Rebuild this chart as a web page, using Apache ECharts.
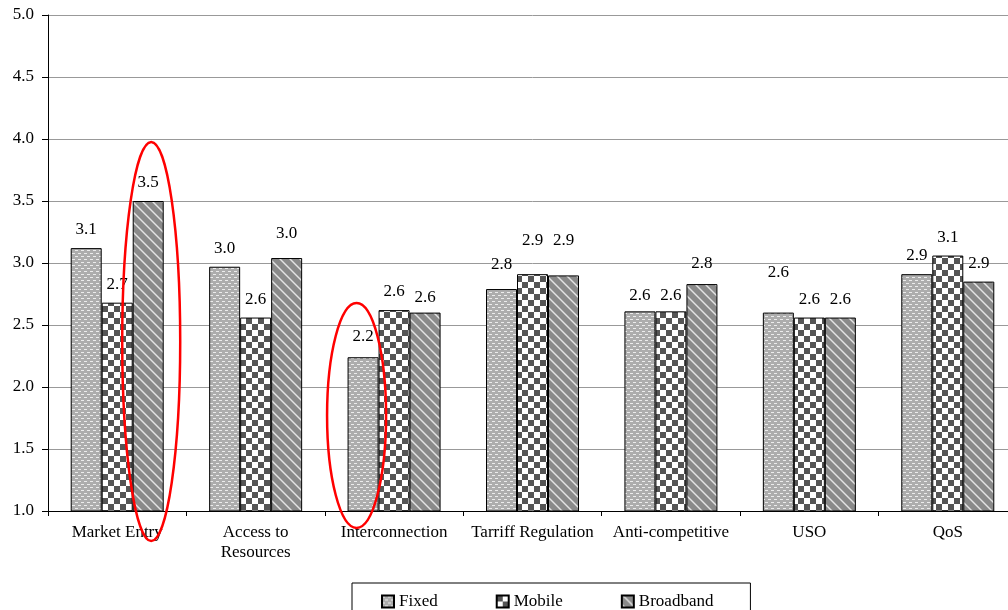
<!DOCTYPE html>
<html>
<head>
<meta charset="utf-8">
<script src="https://cdn.jsdelivr.net/npm/echarts@6/dist/echarts.min.js"></script>
<style>
  html, body { margin: 0; padding: 0; background: #fff; overflow: hidden; width: 1008px; height: 610px; }
  #chart { width: 1017px; height: 610px; }
</style>
</head>
<body>
<div id="chart"></div>
<script>
// ---- data ----
const categories = ['Market Entry', 'Access to\nResources', 'Interconnection', 'Tarriff Regulation', 'Anti-competitive', 'USO', 'QoS'];
const fixed     = [3.12, 2.97, 2.24, 2.79, 2.61, 2.60, 2.91];
const mobile    = [2.68, 2.56, 2.62, 2.91, 2.61, 2.56, 3.06];
const broadband = [3.50, 3.04, 2.60, 2.90, 2.83, 2.56, 2.85];
const seriesNames = ['Fixed', 'Mobile', 'Broadband'];
const yTicks = { min: 1.0, max: 5.0, step: 0.5 };

// label nudges (extra lift in px, mimicking the original's label placement)
const labelLift = {
  Fixed:     [0, 0, 2, 6, -3, 22, 0],
  Mobile:    [0, 0, 0, 15, -3, 0, 0],
  Broadband: [0, 6, -3, 16, 2, 0, 0]
};

// ---- patterns ----
function makeTile(w, h, painter) {
  const c = document.createElement('canvas');
  c.width = w; c.height = h;
  const ctx = c.getContext('2d');
  painter(ctx, w, h);
  return c;
}
const fixedTile = makeTile(6, 6, (ctx, w, h) => {
  ctx.fillStyle = '#adadad'; ctx.fillRect(0, 0, w, h);
  ctx.fillStyle = '#ececec';
  ctx.fillRect(0, 1, 3, 1);
  ctx.fillRect(3, 4, 3, 1);
});
const mobileTile = makeTile(12, 12, (ctx, w, h) => {
  ctx.fillStyle = '#ffffff'; ctx.fillRect(0, 0, w, h);
  ctx.fillStyle = '#555555';
  ctx.fillRect(0, 0, 6, 6);
  ctx.fillRect(6, 6, 6, 6);
});
const broadTile = makeTile(10, 10, (ctx, w, h) => {
  for (let x = 0; x < w; x++) {
    for (let y = 0; y < h; y++) {
      const k = ((x - y) % 10 + 10) % 10;
      let c = '#8a8a8a';
      if (k === 1) c = '#e4e4e4';
      else if (k === 0 || k === 2) c = '#b8b8b8';
      ctx.fillStyle = c;
      ctx.fillRect(x, y, 1, 1);
    }
  }
});
const patterns = {
  Fixed: { image: fixedTile, repeat: 'repeat' },
  Mobile: { image: mobileTile, repeat: 'repeat' },
  Broadband: { image: broadTile, repeat: 'repeat' }
};
const valuesByName = { Fixed: fixed, Mobile: mobile, Broadband: broadband };

const FONT = '"Liberation Serif", "Times New Roman", serif';

const chart = echarts.init(document.getElementById('chart'), null, { renderer: 'canvas', width: 1017, height: 610 });

function makeSeries(name) {
  return {
    name: name,
    type: 'bar',
    barWidth: 31,
    barGap: '0%',
    data: valuesByName[name].map((v, i) => ({
      value: v,
      label: { distance: 10 + labelLift[name][i] }
    })),
    itemStyle: { color: patterns[name], borderColor: '#000', borderWidth: 1 },
    label: {
      show: true,
      position: 'top',
      distance: 10,
      color: '#000',
      fontFamily: FONT,
      fontSize: 17,
      formatter: p => p.value.toFixed(1)
    },
    emphasis: { disabled: true },
    animation: false
  };
}

const option = {
  animation: false,
  backgroundColor: '#fff',
  grid: { left: 48, top: 15, right: 0, bottom: 99, containLabel: false },
  legend: {
    data: seriesNames,
    left: 352,
    top: 583,
    orient: 'horizontal',
    itemWidth: 12,
    itemHeight: 12,
    itemGap: 58,
    padding: [10, 37, 20, 29],
    borderColor: '#000',
    borderWidth: 1,
    icon: 'rect',
    textStyle: { fontFamily: FONT, fontSize: 17, color: '#000' },
    selectedMode: false
  },
  xAxis: {
    type: 'category',
    data: categories,
    boundaryGap: true,
    axisLine: { show: true, lineStyle: { color: '#000', width: 1 } },
    axisTick: { show: true, alignWithLabel: false, length: 5, lineStyle: { color: '#000' } },
    axisLabel: { color: '#000', fontFamily: FONT, fontSize: 17, lineHeight: 20, margin: 12, interval: 0 },
    splitLine: { show: false }
  },
  yAxis: {
    type: 'value',
    min: yTicks.min,
    max: yTicks.max,
    interval: yTicks.step,
    axisLine: { show: true, lineStyle: { color: '#000', width: 1 } },
    axisTick: { show: true, length: 6, lineStyle: { color: '#000' } },
    axisLabel: { color: '#000', fontFamily: FONT, fontSize: 17, margin: 14, formatter: v => v.toFixed(1) },
    splitLine: { show: true, lineStyle: { color: '#999', width: 1 } }
  },
  series: seriesNames.map(makeSeries)
};
chart.setOption(option);

// ---- red ellipse annotations, placed via the axes ----
function ellipseAround(catIndex, seriesIdx, dx, halfW, topVal, bottomVal) {
  const catCenter = chart.convertToPixel({ xAxisIndex: 0 }, catIndex);
  const barCenter = catCenter + (seriesIdx - 1) * 31;
  const yTop = chart.convertToPixel({ yAxisIndex: 0 }, topVal);
  const yBot = chart.convertToPixel({ yAxisIndex: 0 }, bottomVal);
  return {
    type: 'ellipse',
    shape: { cx: barCenter + dx, cy: (yTop + yBot) / 2, rx: halfW, ry: Math.abs(yBot - yTop) / 2 },
    style: { fill: 'none', stroke: '#ff0000', lineWidth: 2.5 },
    silent: true,
    z: 100
  };
}
chart.setOption({
  graphic: [
    ellipseAround(0, 2, 3, 29, 3.976, 0.758),
    ellipseAround(2, 0, -6.5, 29.5, 2.677, 0.863)
  ]
});
</script>
</body>
</html>
